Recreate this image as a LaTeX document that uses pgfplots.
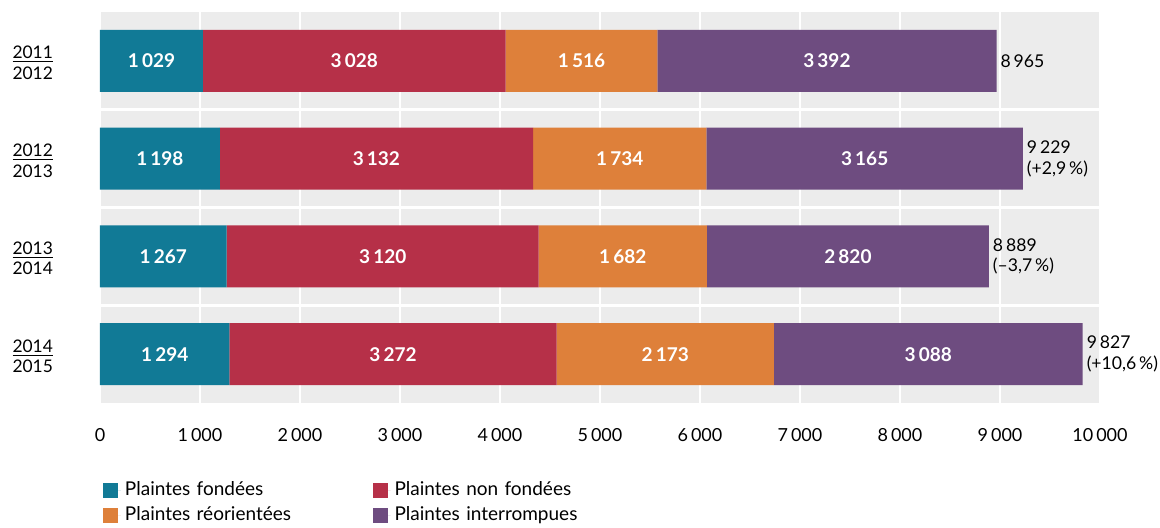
\documentclass[border=0pt]{standalone}
\usepackage{fontspec}
\setmainfont{Lato}
\usepackage{pgfplots}
\pgfplotsset{compat=1.18}
\definecolor{cteal}{RGB}{17,122,150}
\definecolor{cred}{RGB}{182,48,72}
\definecolor{corange}{RGB}{222,128,58}
\definecolor{cpurple}{RGB}{110,76,128}
\definecolor{cgray}{RGB}{236,236,236}
\begin{document}
\begin{tikzpicture}
\useasboundingbox (-50pt,-62pt) rectangle (530pt,201.5pt);
\begin{axis}[
  at={(0,0)}, anchor=south west,
  scale only axis, width=500pt, height=195.5pt,
  xbar stacked, bar width=0.635,
  xmin=0, xmax=10000, ymin=0.5, ymax=4.5, y dir=reverse,
  axis background/.style={fill=cgray},
  axis line style={draw=none},
  major tick length=0pt, minor tick length=0pt,
  scaled x ticks=false,
  xtick={0,1000,2000,3000,4000,5000,6000,7000,8000,9000,10000},
  xticklabels={0,1\,000,2\,000,3\,000,4\,000,5\,000,6\,000,7\,000,8\,000,9\,000,10\,000},
  xticklabel style={yshift=-9pt, font=\fontsize{9}{10}\selectfont},
  xmajorgrids, major grid style={white, line width=1pt},
  ytick={1,2,3,4},
  yticklabels={{\underline{2011}\\2012},{\underline{2012}\\2013},{\underline{2013}\\2014},{\underline{2014}\\2015}},
  yticklabel style={align=center, xshift=-20pt, yshift=-1pt, font=\fontsize{8.7}{10.3}\selectfont},
  minor ytick={1.5,2.5,3.5}, yminorgrids, minor grid style={white, line width=1.5pt},
  legend columns=2, legend cell align=left,
  legend image code/.code={\fill[#1] (0pt,-3.75pt) rectangle (7.5pt,3.75pt); \path (0pt,0pt) -- (8.8pt,0pt);},
  legend style={draw=none, fill=none, inner sep=0pt, at={(rel axis cs:0,0)}, anchor=north west,
    yshift=-38pt, xshift=1.5pt,
    font=\fontsize{9.5}{10}\selectfont,
    nodes={text width=122pt, text height=7pt, text depth=2pt, inner ysep=1pt},
    row sep=1.5pt},
  legend entries={Plaintes fondées, Plaintes non fondées, Plaintes réorientées, Plaintes interrompues},
]
\addplot[fill=cteal, draw=none] coordinates {(1029,1) (1198,2) (1267,3) (1294,4)};
\addplot[fill=cred, draw=none] coordinates {(3028,1) (3132,2) (3120,3) (3272,4)};
\addplot[fill=corange, draw=none] coordinates {(1516,1) (1734,2) (1682,3) (2173,4)};
\addplot[fill=cpurple, draw=none] coordinates {(3392,1) (3165,2) (2820,3) (3088,4)};
\end{axis}
\begin{axis}[
  at={(0,0)}, anchor=south west,
  scale only axis, width=500pt, height=195.5pt,
  xmin=0, xmax=10000, ymin=0.5, ymax=4.5, y dir=reverse,
  hide axis, clip=false,
]
\addplot[draw=none, mark=none, nodes near coords, point meta=explicit symbolic,
  nodes near coords align=center,
  every node near coord/.append style={font=\bfseries\fontsize{9.5}{10}\selectfont, text=white, anchor=center}]
  coordinates {
  (514.5,1) [1\,029] (2543,1) [3\,028] (4815,1) [1\,516] (7269,1) [3\,392]
  (599,2) [1\,198] (2764,2) [3\,132] (5197,2) [1\,734] (7646.5,2) [3\,165]
  (633.5,3) [1\,267] (2827,3) [3\,120] (5228,3) [1\,682] (7479,3) [2\,820]
  (647,4) [1\,294] (2930,4) [3\,272] (5652.5,4) [2\,173] (8283,4) [3\,088]
  };
\addplot[draw=none, mark=none, nodes near coords, point meta=explicit symbolic,
  every node near coord/.append style={font=\fontsize{8.8}{10.3}\selectfont, text=black, anchor=west, align=left, xshift=-1.5pt}]
  coordinates {
  (8965,1) [{8\,965}]
  (9229,2) [{9\,229\\(+2,9\,\%)}]
  (8889,3) [{8\,889\\(–3,7\,\%)}]
  (9827,4) [{9\,827\\(+10,6\,\%)}]
  };
\end{axis}
\end{tikzpicture}
\end{document}
